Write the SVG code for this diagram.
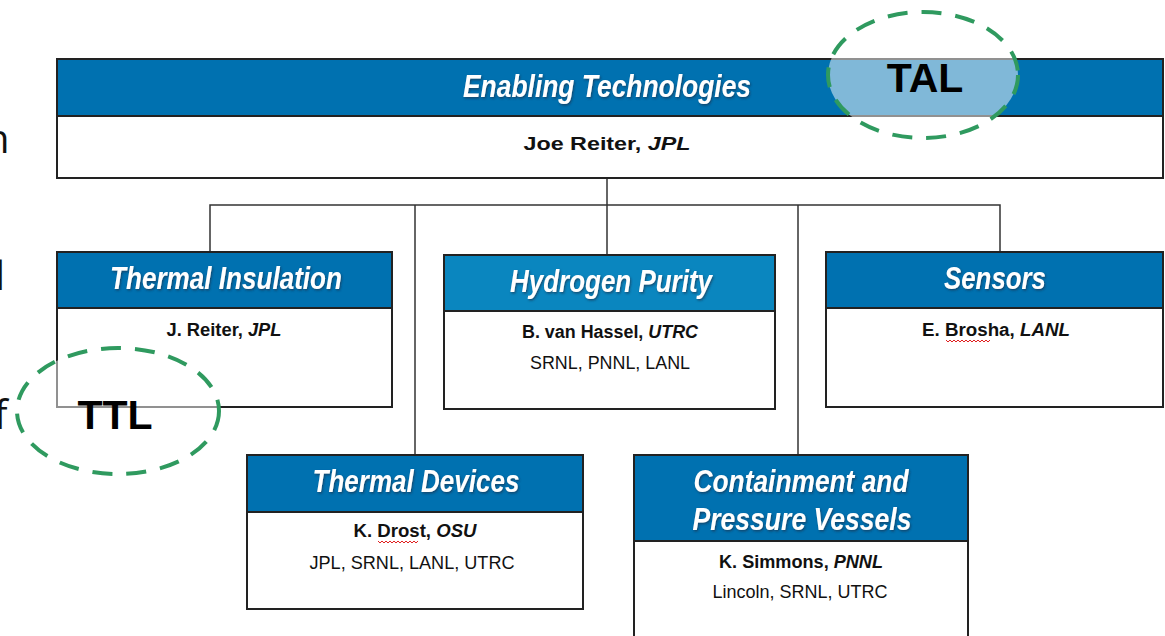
<svg xmlns="http://www.w3.org/2000/svg" width="1165" height="636" viewBox="0 0 1165 636">
<style>
.hdr{fill:#0071b0;stroke:#222;stroke-width:2}
.hdr2{fill:#0a86bf;stroke:#222;stroke-width:2}
.body{fill:#fff;stroke:#222;stroke-width:2}
.ht{font-family:"Liberation Sans",Arial,sans-serif;font-weight:bold;font-style:italic;fill:#fff;text-anchor:middle;filter:url(#sh)}
.bt{font-family:"Liberation Sans",Arial,sans-serif;font-weight:bold;fill:#111;text-anchor:middle;font-size:18px}
.rt{font-family:"Liberation Sans",Arial,sans-serif;fill:#111;text-anchor:middle;font-size:18px}
.it{font-style:italic}
.conn{fill:none;stroke:#333;stroke-width:1.5}
.ell{fill:#fff;fill-opacity:0.5;stroke:#2f9a5f;stroke-width:4;stroke-dasharray:20 14}
.lab{font-family:"Liberation Sans",Arial,sans-serif;font-weight:bold;fill:#000;text-anchor:middle;font-size:41px}
.edge{font-family:"Open Sans","Liberation Sans",sans-serif;fill:#111;font-size:40px}
.sq{fill:none;stroke:#e02020;stroke-width:1}
</style>
<defs>
<filter id="sh" x="-5%" y="-20%" width="110%" height="140%">
<feDropShadow dx="1" dy="1.5" stdDeviation="0.8" flood-color="#1a3550" flood-opacity="0.7"/>
</filter>
</defs>
<rect width="1165" height="636" fill="#fff"/>
<g id="edge-text">
<text class="edge" x="-15" y="153">n</text>
<text class="edge" x="-5" y="290">l</text>
<text class="edge" x="-6" y="429">f</text>
</g>
<g id="connectors">
<path class="conn" d="M607 178 V205"/>
<path class="conn" d="M210 252 V205 H1000 V252"/>
<path class="conn" d="M415 205 V455"/>
<path class="conn" d="M607 205 V255"/>
<path class="conn" d="M798 205 V455"/>
</g>
<g id="enabling">
<rect class="hdr" x="57" y="59" width="1106" height="57"/>
<rect class="body" x="57" y="116" width="1106" height="62"/>
<text class="ht" x="607" y="97" font-size="32" textLength="288" lengthAdjust="spacingAndGlyphs">Enabling Technologies</text>
<text class="bt" x="607" y="150" font-size="20" textLength="167" lengthAdjust="spacingAndGlyphs">Joe Reiter, <tspan class="it">JPL</tspan></text>
</g>
<g id="thermal-insulation">
<rect class="hdr" x="57" y="252" width="335" height="56"/>
<rect class="body" x="57" y="308" width="335" height="99"/>
<text class="ht" x="226" y="289" font-size="31" textLength="232" lengthAdjust="spacingAndGlyphs">Thermal Insulation</text>
<text class="bt" x="224" y="336" textLength="115" lengthAdjust="spacingAndGlyphs">J. Reiter, <tspan class="it">JPL</tspan></text>
</g>
<g id="hydrogen-purity">
<rect class="hdr2" x="444" y="255" width="331" height="56"/>
<rect class="body" x="444" y="311" width="331" height="98"/>
<text class="ht" x="611" y="292" font-size="31" textLength="202" lengthAdjust="spacingAndGlyphs">Hydrogen Purity</text>
<text class="bt" x="610" y="338" textLength="176" lengthAdjust="spacingAndGlyphs">B. van Hassel, <tspan class="it">UTRC</tspan></text>
<text class="rt" x="610" y="369" textLength="160" lengthAdjust="spacingAndGlyphs">SRNL, PNNL, LANL</text>
</g>
<g id="sensors">
<rect class="hdr" x="826" y="252" width="337" height="56"/>
<rect class="body" x="826" y="308" width="337" height="99"/>
<text class="ht" x="995" y="289" font-size="31" textLength="102" lengthAdjust="spacingAndGlyphs">Sensors</text>
<text class="bt" x="996" y="336" textLength="148" lengthAdjust="spacingAndGlyphs">E. Brosha, <tspan class="it">LANL</tspan></text>
<path class="sq" d="M946 340 l2 2 l2 -2 l2 2 l2 -2 l2 2 l2 -2 l2 2 l2 -2 l2 2 l2 -2 l2 2 l2 -2 l2 2 l2 -2 l2 2 l2 -2 l2 2 l2 -2 l2 2 l2 -2 l2 2 l2 -2"/>
</g>
<g id="thermal-devices">
<rect class="hdr" x="247" y="455" width="336" height="57"/>
<rect class="body" x="247" y="512" width="336" height="97"/>
<text class="ht" x="416" y="492" font-size="31" textLength="207" lengthAdjust="spacingAndGlyphs">Thermal Devices</text>
<text class="bt" x="415" y="537" textLength="123" lengthAdjust="spacingAndGlyphs">K. Drost, <tspan class="it">OSU</tspan></text>
<path class="sq" d="M378 541 l2 2 l2 -2 l2 2 l2 -2 l2 2 l2 -2 l2 2 l2 -2 l2 2 l2 -2 l2 2 l2 -2 l2 2 l2 -2 l2 2 l2 -2 l2 2 l2 -2 l2 2 l2 -2"/>
<text class="rt" x="412" y="569" textLength="205" lengthAdjust="spacingAndGlyphs">JPL, SRNL, LANL, UTRC</text>
</g>
<g id="containment">
<rect class="hdr" x="634" y="455" width="334" height="86"/>
<rect class="body" x="634" y="541" width="334" height="100"/>
<text class="ht" x="801" y="492" font-size="31" textLength="215" lengthAdjust="spacingAndGlyphs">Containment and</text>
<text class="ht" x="802" y="530" font-size="31" textLength="219" lengthAdjust="spacingAndGlyphs">Pressure Vessels</text>
<text class="bt" x="801" y="568" textLength="164" lengthAdjust="spacingAndGlyphs">K. Simmons, <tspan class="it">PNNL</tspan></text>
<text class="rt" x="800" y="598" textLength="175" lengthAdjust="spacingAndGlyphs">Lincoln, SRNL, UTRC</text>
</g>
<g id="tal">
<ellipse class="ell" cx="923" cy="75" rx="95" ry="63"/>
<text class="lab" x="925" y="92">TAL</text>
</g>
<g id="ttl">
<ellipse class="ell" cx="118" cy="411" rx="101" ry="63"/>
<text class="lab" x="115" y="429">TTL</text>
</g>
</svg>
